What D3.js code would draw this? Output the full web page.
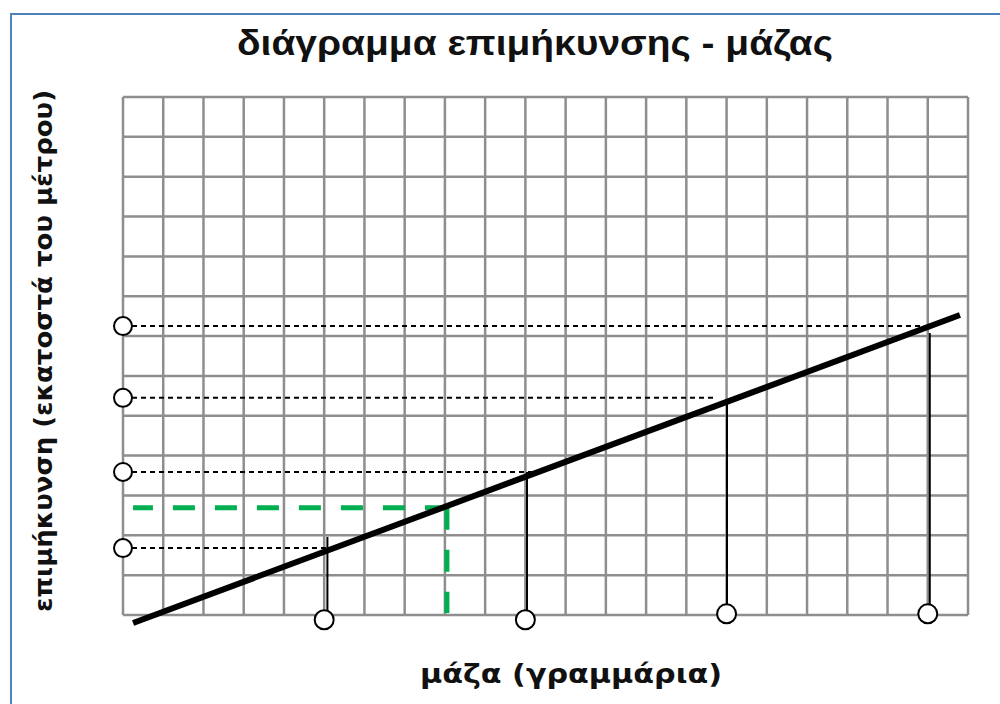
<!DOCTYPE html>
<html>
<head>
<meta charset="utf-8">
<script src="https://cdn.jsdelivr.net/npm/d3@7"></script>
<style>
  body { margin: 0; background: #fff; }
  svg { display: block; }
</style>
</head>
<body>
<script>
// values are in grid squares (one square = one unit)
const title = "διάγραμμα επιμήκυνσης - μάζας";
const xLabel = "μάζα (γραμμάρια)";
const yLabel = "επιμήκυνση (εκατοστά του μέτρου)";

const gridCols = 21;
const gridRows = 13;

// measured points: mass and extension
const masses = [5, 10, 15, 20];
const lengths = [1.68, 3.59, 5.45, 7.25];
const massMarkerY = [-0.12, -0.12, 0.03, 0.03];
const stemX = [5.08, 10.04, 15.01, 20.05];
const stemTops = [1.96, 3.59, 5.4, 7.08];
const dashEnds = [5.09, 10.16, 14.71, 19.98];

// the fitted line
const lineX = [0.25, 20.8];
const lineY = [-0.2, 7.53];

// green reading: corner point, then where each leg stops
const readCorner = [8.05, 2.69];
const readLegEnds = [0.25, 0.05];

const w = 1000, h = 704;

const svg = d3.select("body")
    .append("svg")
    .attr("width", w)
    .attr("height", h);

const x = d3.scaleLinear().domain([0, gridCols]).range([123, 968]);
const y = d3.scaleLinear().domain([0, gridRows]).range([615, 97]);

// frame of the figure (only top and left show)
svg.append("path")
    .attr("d", "M11,704 L11,14 L1000,14")
    .attr("fill", "none")
    .attr("stroke", "#4f81bd")
    .attr("stroke-width", 2);

// grid
const grid = svg.append("g")
    .attr("stroke", "#8e8e8e")
    .attr("stroke-width", 2.5);

grid.selectAll("line.v")
    .data(d3.range(0, gridCols + 1))
    .enter()
    .append("line")
    .attr("x1", d => x(d))
    .attr("x2", d => x(d))
    .attr("y1", y(gridRows))
    .attr("y2", y(0));

grid.selectAll("line.h")
    .data(d3.range(0, gridRows + 1))
    .enter()
    .append("line")
    .attr("x1", x(0))
    .attr("x2", x(gridCols))
    .attr("y1", d => y(d))
    .attr("y2", d => y(d));

// dashed guides from the y circles to the line
svg.selectAll("line.guide")
    .data(lengths)
    .enter()
    .append("line")
    .attr("x1", x(0))
    .attr("x2", (d, i) => x(dashEnds[i]))
    .attr("y1", d => y(d))
    .attr("y2", d => y(d))
    .attr("stroke", "#000")
    .attr("stroke-width", 2)
    .attr("stroke-dasharray", "5,4");

// stems from the mass circles
svg.selectAll("line.stem")
    .data(masses)
    .enter()
    .append("line")
    .attr("x1", (d, i) => x(stemX[i]))
    .attr("x2", (d, i) => x(stemX[i]))
    .attr("y1", (d, i) => y(massMarkerY[i]))
    .attr("y2", (d, i) => y(stemTops[i]))
    .attr("stroke", "#000")
    .attr("stroke-width", 2);

// green reading, both legs dashed from the corner outwards
const green = svg.append("g")
    .attr("stroke", "#00b050")
    .attr("stroke-width", 5)
    .attr("stroke-dasharray", "22,20");

green.append("line")
    .attr("x1", x(readCorner[0]))
    .attr("y1", y(readCorner[1]))
    .attr("x2", x(readLegEnds[0]))
    .attr("y2", y(readCorner[1]));

green.append("line")
    .attr("x1", x(readCorner[0]))
    .attr("y1", y(readCorner[1]))
    .attr("x2", x(readCorner[0]))
    .attr("y2", y(readLegEnds[1]));

// main line
svg.append("path")
    .datum(d3.zip(lineX, lineY))
    .attr("d", d3.line().x(d => x(d[0])).y(d => y(d[1])))
    .attr("fill", "none")
    .attr("stroke", "#000")
    .attr("stroke-width", 6);

// circles
svg.selectAll("circle.ym")
    .data(lengths)
    .enter()
    .append("circle")
    .attr("cx", x(0))
    .attr("cy", d => y(d))
    .attr("r", 9)
    .attr("fill", "#fff")
    .attr("stroke", "#000")
    .attr("stroke-width", 2);

svg.selectAll("circle.xm")
    .data(masses)
    .enter()
    .append("circle")
    .attr("cx", d => x(d))
    .attr("cy", (d, i) => y(massMarkerY[i]))
    .attr("r", 9.5)
    .attr("fill", "#fff")
    .attr("stroke", "#000")
    .attr("stroke-width", 2);

// texts
svg.append("text")
    .attr("x", 535)
    .attr("y", 55)
    .attr("text-anchor", "middle")
    .attr("font-family", "Liberation Sans, Arial, sans-serif")
    .attr("font-weight", "bold")
    .attr("font-size", 35)
    .attr("textLength", 596)
    .attr("lengthAdjust", "spacingAndGlyphs")
    .attr("fill", "#111")
    .text(title);

svg.append("text")
    .attr("x", 571)
    .attr("y", 683)
    .attr("text-anchor", "middle")
    .attr("font-family", "DejaVu Sans, sans-serif")
    .attr("font-weight", "bold")
    .attr("font-size", 26)
    .attr("textLength", 302)
    .attr("lengthAdjust", "spacingAndGlyphs")
    .attr("fill", "#111")
    .text(xLabel);

svg.append("text")
    .attr("transform", "translate(52,351) rotate(-90)")
    .attr("text-anchor", "middle")
    .attr("font-family", "DejaVu Sans, sans-serif")
    .attr("font-weight", "bold")
    .attr("font-size", 24)
    .attr("textLength", 522)
    .attr("lengthAdjust", "spacingAndGlyphs")
    .attr("fill", "#111")
    .text(yLabel);
</script>
</body>
</html>
